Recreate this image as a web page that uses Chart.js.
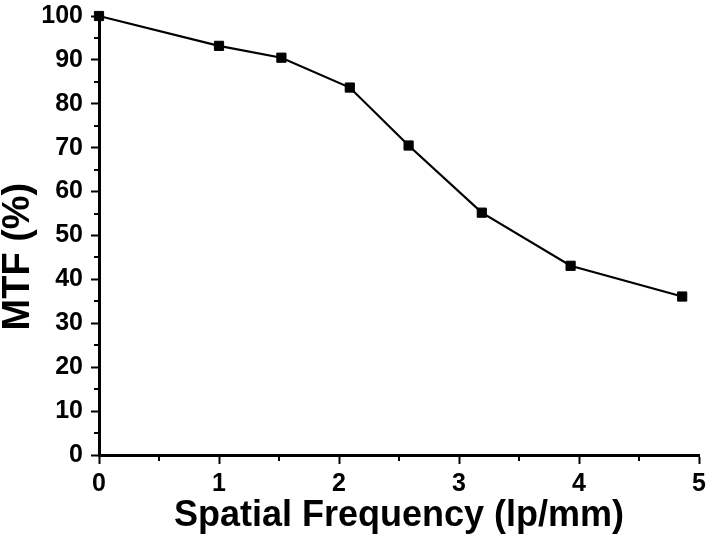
<!DOCTYPE html>
<html>
<head>
<meta charset="utf-8">
<script src="https://cdn.jsdelivr.net/npm/chart.js@4/dist/chart.umd.min.js"></script>
<style>
    html, body { margin: 0; padding: 0; background: #fff; }
    #wrap { width: 707px; height: 538px; }
</style>
</head>
<body>
<div id="wrap"><canvas id="mtfChart" width="707" height="538"></canvas></div>
<script>
// Data
const frequency = [0, 1.0, 1.52, 2.09, 2.58, 3.19, 3.93, 4.86];
const mtf = [100, 93.2, 90.5, 83.7, 70.5, 55.2, 43.1, 36.1];
const xMinorTicks = [0.5, 1.5, 2.5, 3.5, 4.5];
const yMinorTicks = [5, 15, 25, 35, 45, 55, 65, 75, 85, 95];

const FONT = "'Liberation Sans', Arial, sans-serif";

// Origin-style minor ticks, placed through the chart's own scales
const minorTicks = {
    id: "minorTicks",
    afterDraw(chart) {
        const { ctx, scales } = chart;
        const x = scales.x;
        const y = scales.y;
        ctx.save();
        ctx.strokeStyle = "#000";
        ctx.lineWidth = 2;
        ctx.beginPath();
        xMinorTicks.forEach((v) => {
            const px = Math.round(x.getPixelForValue(v));
            ctx.moveTo(px, x.top);
            ctx.lineTo(px, x.top + 6);
        });
        yMinorTicks.forEach((v) => {
            const py = Math.round(y.getPixelForValue(v));
            ctx.moveTo(y.right, py);
            ctx.lineTo(y.right - 5, py);
        });
        ctx.stroke();
        ctx.restore();
    },
};

const data = {
    datasets: [
        {
            label: "MTF",
            data: frequency.map((f, i) => ({ x: f, y: mtf[i] })),
            borderColor: "#000",
            borderWidth: 2.2,
            backgroundColor: "#000",
            pointStyle: "rect",
            pointRadius: 6.5,
            pointBorderWidth: 1,
            tension: 0,
            clip: false,
        },
    ],
};

const config = {
    type: "line",
    data,
    options: {
        responsive: false,
        animation: false,
        devicePixelRatio: 1,
        layout: { padding: { top: 16, right: 8, left: 0, bottom: 0 } },
        plugins: {
            legend: { display: false },
            tooltip: { enabled: false },
        },
        scales: {
            x: {
                type: "linear",
                min: 0,
                max: 5,
                ticks: {
                    stepSize: 1,
                    color: "#000",
                    padding: 5,
                    font: { family: FONT, size: 25, weight: "bold" },
                },
                grid: {
                    drawOnChartArea: false,
                    drawTicks: true,
                    tickLength: 9,
                    tickWidth: 2,
                    tickColor: "#000",
                },
                border: { color: "#000", width: 3 },
                title: {
                    display: true,
                    text: "Spatial Frequency (lp/mm)",
                    color: "#000",
                    padding: { top: 0, bottom: 0 },
                    font: { family: FONT, size: 36, weight: "bold", lineHeight: 1.2 },
                },
                afterFit(scale) {
                    scale.height = 83;
                    scale.paddingLeft = 0;
                    scale.paddingRight = 0;
                },
            },
            y: {
                min: 0,
                max: 100,
                ticks: {
                    stepSize: 10,
                    color: "#000",
                    padding: 8,
                    font: { family: FONT, size: 25, weight: "bold" },
                },
                grid: {
                    drawOnChartArea: false,
                    drawTicks: true,
                    tickLength: 8,
                    tickWidth: 2,
                    tickColor: "#000",
                },
                border: { color: "#000", width: 3 },
                title: {
                    display: true,
                    // trailing spaces nudge the rotated title down like the original
                    text: "MTF (%)    ",
                    color: "#000",
                    padding: { top: 0, bottom: 0 },
                    font: { family: FONT, size: 38, weight: "bold", lineHeight: 1.0 },
                },
                afterFit(scale) {
                    scale.width = 99;
                    scale.paddingTop = 0;
                    scale.paddingBottom = 0;
                },
            },
        },
    },
    plugins: [minorTicks],
};

new Chart(document.getElementById("mtfChart"), config);
</script>
</body>
</html>
